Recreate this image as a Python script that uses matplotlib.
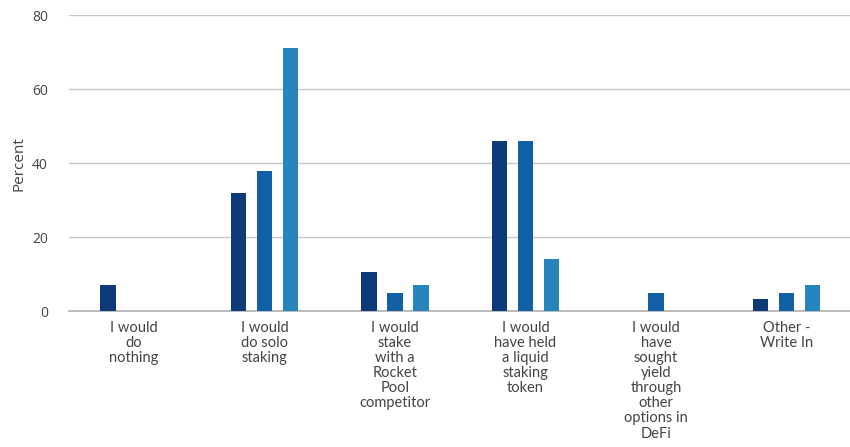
import matplotlib.pyplot as plt
import numpy as np

categories = [
    "I would\ndo\nnothing",
    "I would\ndo solo\nstaking",
    "I would\nstake\nwith a\nRocket\nPool\ncompetitor",
    "I would\nhave held\na liquid\nstaking\ntoken",
    "I would\nhave\nsought\nyield\nthrough\nother\noptions in\nDeFi",
    "Other -\nWrite In",
]
series_a = [7, 32, 10.5, 46, 0, 3.2]
series_b = [0, 38, 5, 46, 5, 5]
series_c = [0, 71, 7, 14, 0, 7]
colors = ['#0e3a78', '#1160a6', '#2784bd']
yticks = [0, 20, 40, 60, 80]

plt.rcParams['font.family'] = ['Lato', 'DejaVu Sans']

fig = plt.figure(figsize=(8.5, 4.47), dpi=100)
ax = fig.add_axes([0.081, 0.304, 0.921, 0.662])

x = np.arange(len(categories))
w = 0.12
off = 0.2
for vals, dx, c in zip([series_a, series_b, series_c], [-off, 0, off], colors):
    ax.bar(x + dx, vals, width=w, color=c, zorder=3)

ax.set_xlim(-0.5, len(categories) - 0.5)
ax.set_ylim(0, 80)
ax.set_yticks(yticks)
ax.set_xticks(x)
ax.set_xticklabels(categories, fontsize=10.5, color='#444444', va='top', linespacing=1.1)
ax.tick_params(axis='y', length=0, colors='#444444', labelsize=10, pad=15)
ax.tick_params(axis='x', length=0, colors='#444444', pad=7)
for t in ax.get_yticklabels():
    t.set_family(['Open Sans', 'DejaVu Sans'])
ax.grid(axis='y', color='#c8c8c8', lw=1, zorder=0)
ax.set_ylabel('Percent', fontsize=11, color='#444444', labelpad=4,
              family=['Open Sans', 'DejaVu Sans'])
for s in ['top', 'right', 'left']:
    ax.spines[s].set_visible(False)
ax.spines['bottom'].set_color('#b0b0b0')
ax.spines['bottom'].set_linewidth(1.2)

fig.savefig('out.png', dpi=100)
